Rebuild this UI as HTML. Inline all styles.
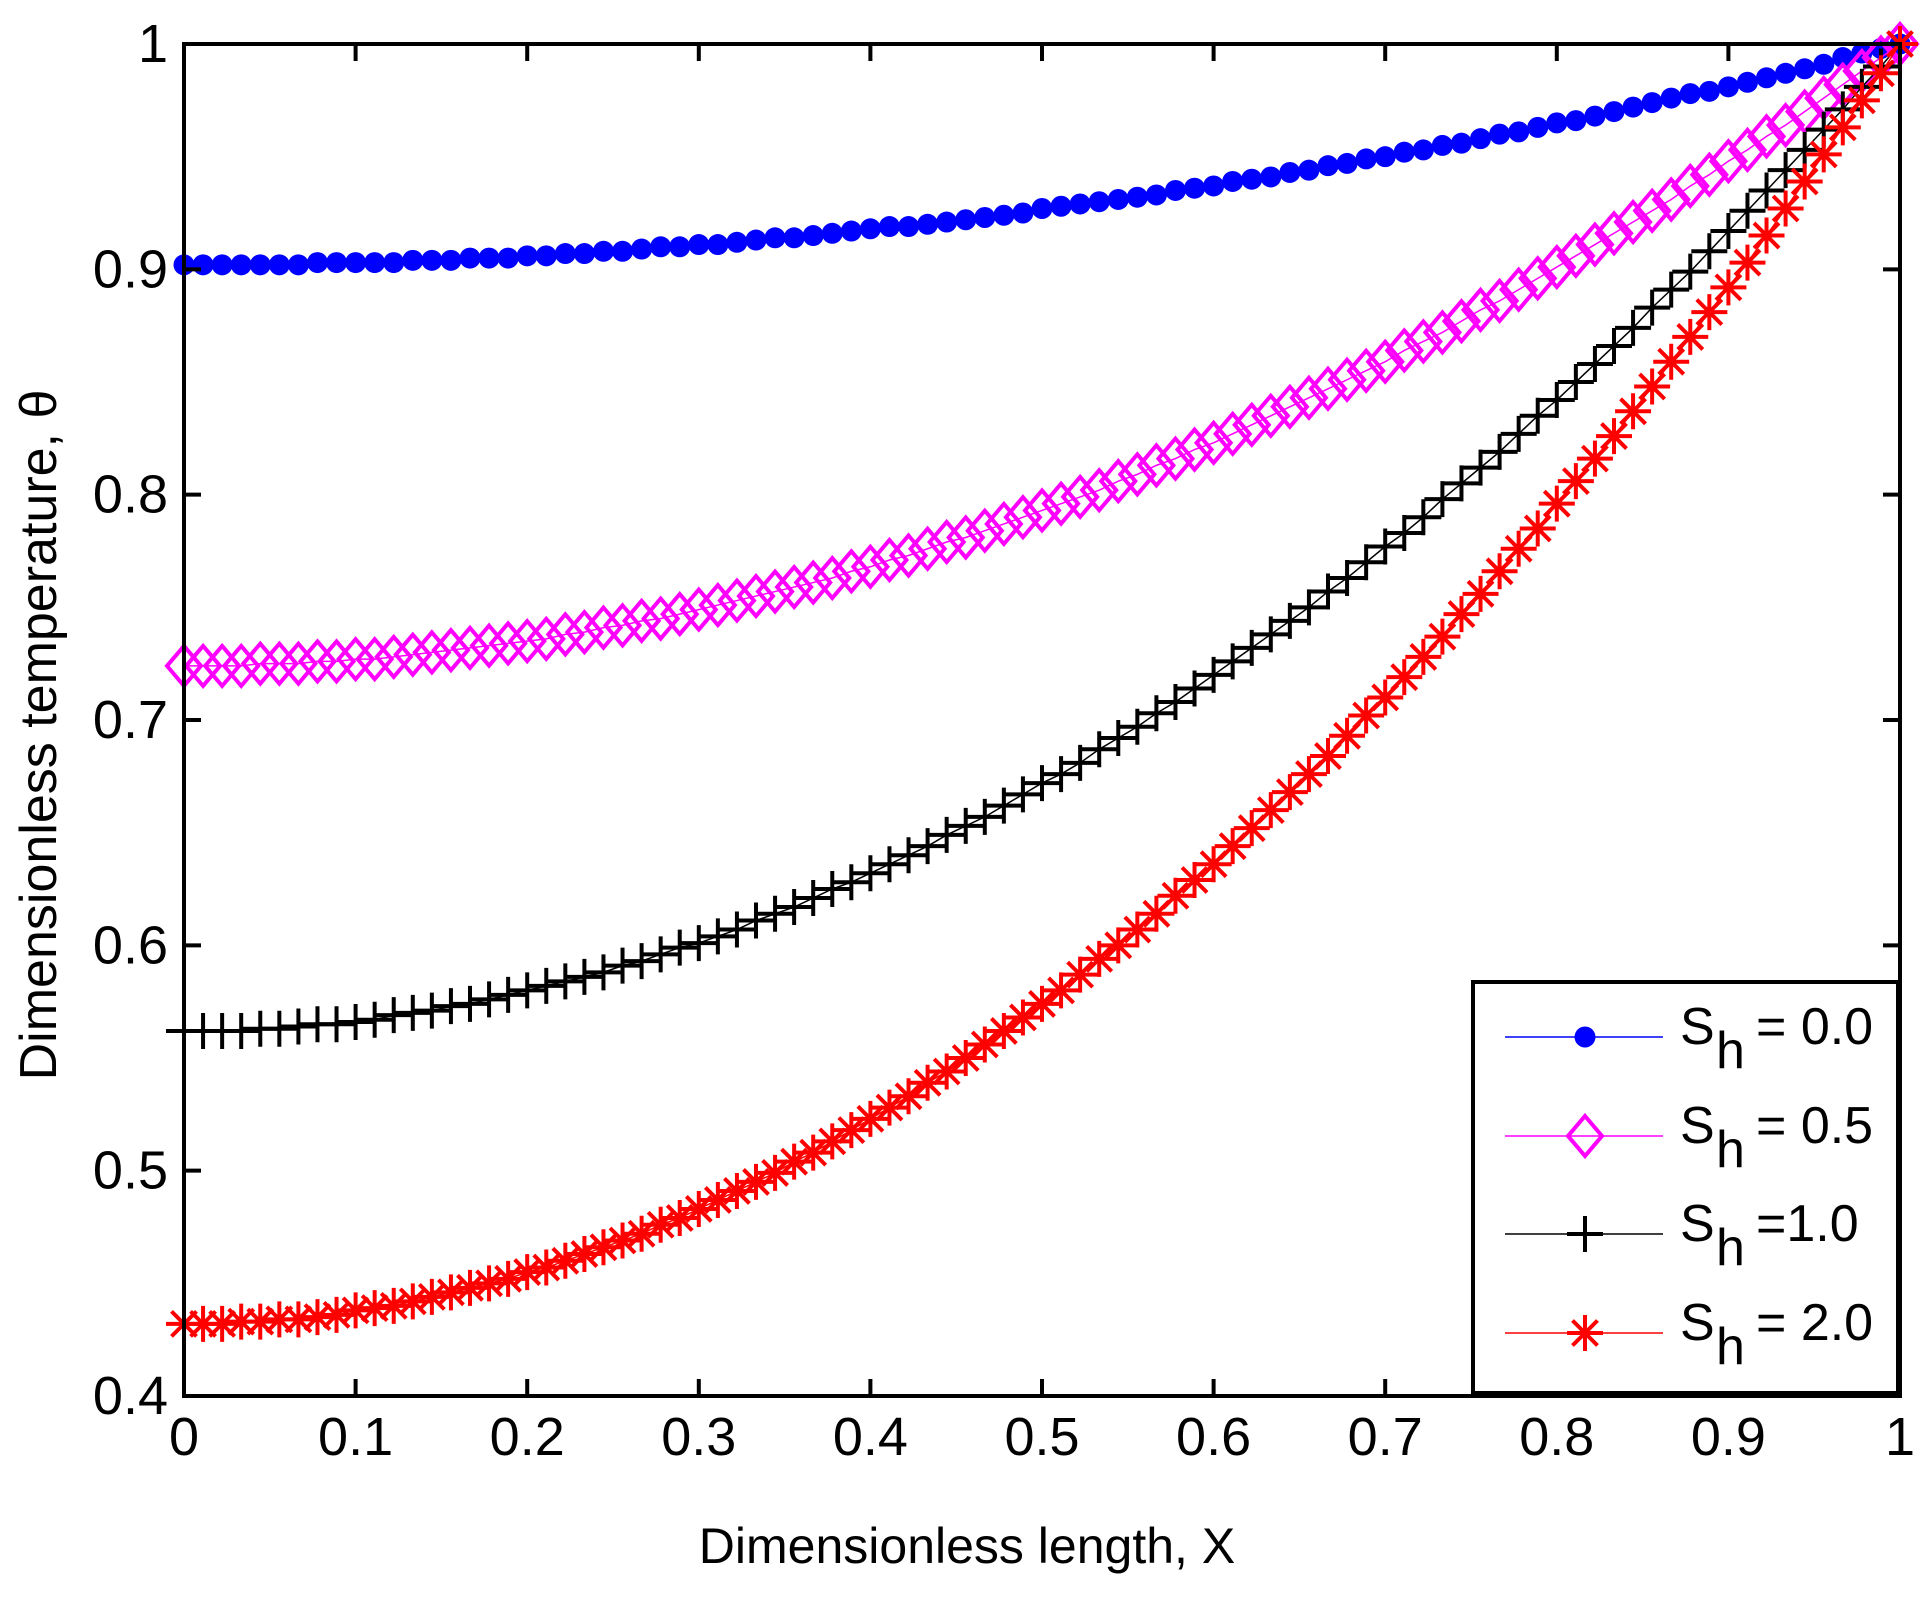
<!DOCTYPE html>
<html><head><meta charset="utf-8"><style>
html,body{margin:0;padding:0;background:#fff;}
svg{display:block;font-family:"Liberation Sans",Arial,sans-serif;}
</style></head><body>
<svg id="chart" width="1931" height="1599" viewBox="0 0 1931 1599" xmlns="http://www.w3.org/2000/svg">
<rect width="1931" height="1599" fill="#fff"/>
<g id="series"></g>
<g id="axes"></g>
<text x="967" y="1563" font-size="50" text-anchor="middle">Dimensionless length, X</text>
<text transform="translate(56,735) rotate(-90)" font-size="52" text-anchor="middle">Dimensionless temperature, θ</text>
<g id="legend"></g>
</svg>
<script>
const xTicks=[0,0.1,0.2,0.3,0.4,0.5,0.6,0.7,0.8,0.9,1];
const xTickLabels=["0","0.1","0.2","0.3","0.4","0.5","0.6","0.7","0.8","0.9","1"];
const yTicks=[0.4,0.5,0.6,0.7,0.8,0.9,1];
const yTickLabels=["0.4","0.5","0.6","0.7","0.8","0.9","1"];
const nPoints=91;
const seriesNames=["Sh = 0.0","Sh = 0.5","Sh =1.0","Sh = 2.0"];
const blueVals=[.902,.902,.902,.902,.902,.902,.902,.903,.903,.903,.903,.903,.904,.904,.904,.905,.905,.905,.906,.906,.907,.907,.908,.908,.909,.910,.910,.911,.911,.912,.913,.914,.914,.915,.916,.917,.918,.919,.919,.920,.921,.922,.923,.924,.925,.927,.928,.929,.930,.931,.932,.933,.935,.936,.937,.939,.940,.941,.943,.944,.946,.947,.949,.950,.952,.953,.955,.956,.958,.960,.961,.963,.965,.966,.968,.970,.972,.974,.976,.978,.979,.981,.983,.985,.987,.989,.991,.994,.996,.998,1];
const magentaVals=[.724,.724,.724,.724,.725,.725,.725,.726,.726,.727,.727,.728,.729,.730,.731,.732,.733,.734,.735,.736,.738,.739,.741,.742,.744,.745,.747,.749,.751,.753,.755,.757,.759,.761,.763,.766,.768,.771,.773,.776,.779,.781,.784,.787,.790,.793,.796,.799,.802,.806,.809,.813,.816,.820,.823,.827,.831,.835,.839,.843,.847,.851,.855,.859,.864,.868,.872,.877,.882,.886,.891,.896,.901,.906,.911,.916,.921,.926,.931,.937,.942,.948,.953,.959,.964,.970,.976,.982,.988,.994,1];
const blackVals=[.562,.562,.562,.562,.563,.563,.564,.565,.565,.566,.567,.569,.570,.571,.573,.574,.576,.578,.580,.582,.584,.586,.588,.591,.593,.596,.599,.601,.604,.607,.611,.614,.617,.621,.625,.628,.632,.636,.640,.644,.649,.653,.657,.662,.667,.672,.676,.681,.687,.692,.697,.703,.708,.714,.720,.726,.732,.738,.744,.750,.757,.763,.770,.777,.783,.790,.798,.805,.812,.819,.827,.835,.842,.850,.858,.866,.874,.883,.891,.899,.908,.917,.926,.935,.944,.953,.962,.971,.981,.990,1];
const redVals=[.432,.432,.432,.433,.433,.434,.434,.435,.436,.438,.439,.440,.442,.444,.446,.448,.450,.452,.455,.457,.460,.463,.466,.469,.472,.476,.479,.483,.487,.491,.495,.499,.504,.508,.513,.518,.523,.528,.533,.539,.544,.550,.556,.562,.568,.574,.580,.587,.594,.600,.607,.614,.622,.629,.636,.644,.652,.660,.668,.676,.684,.693,.702,.710,.719,.728,.737,.747,.756,.766,.776,.785,.796,.806,.816,.826,.837,.848,.859,.870,.881,.892,.903,.915,.927,.939,.951,.963,.975,.987,1];

const NS="http://www.w3.org/2000/svg";
const X0=184,X1=1900,Y0=1396,Y1=44;
const xs=v=>X0+(v-0)/(1-0)*(X1-X0);
const ys=v=>Y0-(v-0.4)/(1-0.4)*(Y0-Y1);
function mk(tag,attrs,parent){const e=document.createElementNS(NS,tag);for(const k in attrs)e.setAttribute(k,attrs[k]);parent.appendChild(e);return e;}

function marker(type,cx,cy,color,parent){
  const g=mk('g',{},parent);
  if(type==='dot'){mk('circle',{cx:cx,cy:cy,r:10.5,fill:color},g);}
  else if(type==='diamond'){mk('polygon',{points:`${cx},${cy-20} ${cx+17},${cy} ${cx},${cy+20} ${cx-17},${cy}`,fill:'none',stroke:color,'stroke-width':4},g);}
  else if(type==='plus'){mk('path',{d:`M${cx-18},${cy}H${cx+18}M${cx},${cy-18}V${cy+18}`,stroke:color,'stroke-width':4,fill:'none'},g);}
  else {const d=12.5;mk('path',{d:`M${cx-18},${cy}H${cx+18}M${cx},${cy-18}V${cy+18}M${cx-d},${cy-d}L${cx+d},${cy+d}M${cx-d},${cy+d}L${cx+d},${cy-d}`,stroke:color,'stroke-width':4,fill:'none'},g);}
  return g;
}

const series=[{vals:blueVals,color:'#0000ff',type:'dot',name:'series-sh-0-0'},
{vals:magentaVals,color:'#ff00ff',type:'diamond',name:'series-sh-0-5'},
{vals:blackVals,color:'#000000',type:'plus',name:'series-sh-1-0'},
{vals:redVals,color:'#ff0000',type:'star',name:'series-sh-2-0'}];
const sg=document.getElementById('series');
series.forEach(s=>{
  const g=mk('g',{},sg);
  
  
  const pts=s.vals.map((v,i)=>xs(i/(nPoints-1))+','+ys(v)).join(' ');
  const line=mk('polyline',{points:pts,fill:'none',stroke:s.color,'stroke-width':1.5},g);
  
  
  s.vals.forEach((v,i)=>{
    const m=marker(s.type,xs(i/(nPoints-1)),ys(v),s.color,g);
    
    
  });
});

const ag=document.getElementById('axes');
const frame=mk('rect',{x:X0,y:Y1,width:X1-X0,height:Y0-Y1,fill:'none',stroke:'#000','stroke-width':4},ag);


xTicks.forEach((t,i)=>{
  const x=xs(t);
  const tk=mk('path',{d:`M${x},${Y0}V${Y0-17}M${x},${Y1}V${Y1+17}`,stroke:'#000','stroke-width':4},ag);
  
  
  const tx=mk('text',{x:x,y:1455,'font-size':54,'text-anchor':'middle'},ag);
  tx.textContent=xTickLabels[i];
  
  
});
yTicks.forEach((t,i)=>{
  const y=ys(t);
  const tk=mk('path',{d:`M${X0},${y}H${X0+17}M${X1},${y}H${X1-17}`,stroke:'#000','stroke-width':4},ag);
  
  
  const tx=mk('text',{x:168,y:y+18,'font-size':54,'text-anchor':'end'},ag);
  tx.textContent=yTickLabels[i];
  
  
});

const lg=document.getElementById('legend');
mk('rect',{x:1473,y:982,width:425,height:411,fill:'#fff',stroke:'#000','stroke-width':4},lg);
const rowY=[1037,1136,1234,1333];
const valTexts=["= 0.0","= 0.5","=1.0","= 2.0"];
series.forEach((s,i)=>{
  const g=mk('g',{},lg);
  
  
  const y=rowY[i];
  mk('line',{x1:1505,x2:1663,y1:y,y2:y,stroke:s.color,'stroke-width':1.5},g);
  marker(s.type,1585,y,s.color,g);
  const t1=mk('text',{x:1680,y:y+7,'font-size':52},g);t1.textContent='S';
  const t2=mk('text',{x:1716,y:y+31,'font-size':52},g);t2.textContent='h';
  const t3=mk('text',{x:1756,y:y+7,'font-size':52},g);t3.textContent=valTexts[i];
});
</script>
</body></html>
